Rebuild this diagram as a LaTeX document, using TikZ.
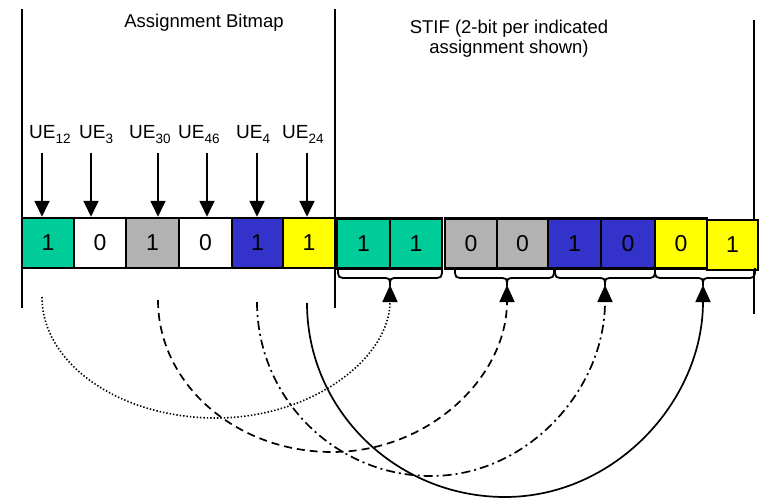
\documentclass[tikz,border=0pt]{standalone}
\usepackage{fontspec}
\setmainfont{Liberation Sans}
\usetikzlibrary{arrows.meta}
\definecolor{cgreen}{HTML}{00CC99}
\definecolor{cgray}{HTML}{B2B2B2}
\definecolor{cblue}{HTML}{3333CC}
\definecolor{cyellow}{HTML}{FFFF00}
\newcommand\mybrace[3]{\draw[bracestyle] (#1,268) .. controls (#1,278) .. (#1+10,278) -- (#3-9,278) .. controls (#3,278) .. (#3,286) .. controls (#3,278) .. (#3+9,278) -- (#2-10,278) .. controls (#2,278) .. (#2,268);}
\newcommand\mysub[1]{\raisebox{-5pt}{\fontsize{13.5}{14}\selectfont #1}}
\begin{document}
\begin{tikzpicture}[x=1pt,y=-1pt,
  bit/.style={draw, line width=2.5pt, minimum height=50pt, inner sep=0pt, font=\fontsize{23}{27}\selectfont},
  lbl/.style={anchor=base west, inner sep=0pt, font=\fontsize{19}{21}\selectfont},
  ttl/.style={anchor=base, inner sep=0pt, font=\fontsize{18.5}{21}\selectfont},
  vline/.style={line width=2pt},
  darrow/.style={line width=1.8pt, -{Triangle[width=15pt,length=16pt]}},
  link/.style={line width=1.7pt, -{Triangle[width=15pt,length=17pt]}},
  bracestyle/.style={line width=1.8pt}]
\useasboundingbox (0,0) rectangle (759,500);
% frame lines
\draw[vline] (22,9) -- (22,308);
\draw[vline] (335,9) -- (335,308);
\draw[vline] (754,20) -- (754,314);
% titles
\node[ttl] (t1) at (204,28) {Assignment Bitmap};
\node[ttl] (t2) at (509,34) {STIF (2-bit per indicated};
\node[ttl] (t3) at (509,54) {assignment shown)};
% UE labels
\node[lbl] (u1) at (29,138) {UE\mysub{12}};
\node[lbl] (u2) at (79,138) {UE\mysub{3}};
\node[lbl] (u3) at (129,138) {UE\mysub{30}};
\node[lbl] (u4) at (178,138) {UE\mysub{46}};
\node[lbl] (u5) at (236,138) {UE\mysub{4}};
\node[lbl] (u6) at (282,138) {UE\mysub{24}};
% bitmap boxes
\node[bit, fill=cgreen, minimum width=52pt] (b1) at (48,243) {1};
\node[bit, fill=white, minimum width=52pt] (b2) at (100,243) {0};
\node[bit, fill=cgray, minimum width=53pt] (b3) at (152.5,243) {1};
\node[bit, fill=white, minimum width=53pt] (b4) at (205.5,243) {0};
\node[bit, fill=cblue, minimum width=51pt] (b5) at (257.5,243) {1};
\node[bit, fill=cyellow, minimum width=52pt] (b6) at (309,243) {1};
% STIF boxes
\node[bit, fill=cgreen, minimum width=53pt] (s1) at (363.5,243.5) {1};
\node[bit, fill=cgreen, minimum width=52pt] (s2) at (416,243.5) {1};
\node[bit, fill=cgray, minimum width=52pt] (s3) at (471,243.5) {0};
\node[bit, fill=cgray, minimum width=51pt] (s4) at (522.5,243.5) {0};
\node[bit, fill=cblue, minimum width=53pt] (s5) at (574.5,243.5) {1};
\node[bit, fill=cblue, minimum width=54pt] (s6) at (628,243.5) {0};
\node[bit, fill=cyellow, minimum width=52pt] (s7) at (681,243.5) {0};
\node[bit, fill=cyellow, minimum width=51pt] (s8) at (732.5,245) {1};
% down arrows
\coordinate (a1) at (42,153);
\coordinate (a2) at (91,153);
\coordinate (a3) at (158,153);
\coordinate (a4) at (207,153);
\coordinate (a5) at (257,153);
\coordinate (a6) at (307,153);
\foreach \i in {1,...,6} {\draw[darrow] (a\i) -- (a\i |- b\i.north);}
% braces
\mybrace{338}{442}{390}
\mybrace{455}{554}{507}
\mybrace{555}{655}{605}
\mybrace{655}{755}{703}
% links
\coordinate (c1) at (42,297);
\coordinate (c2) at (158,300);
\coordinate (c3) at (257,302);
\coordinate (c4) at (307,303);
\coordinate (k1) at (390,285);
\coordinate (k2) at (507,285);
\coordinate (k3) at (605,285);
\coordinate (k4) at (703,285);
\draw[link, line width=1.6pt, dash pattern=on 1.4pt off 2pt] (c1) .. controls (42,364) and (120,418) .. (216,418) .. controls (312,418) and (390,358) .. (k1);
\draw[link, dash pattern=on 8pt off 5pt] (c2) .. controls (158,384) and (236,452) .. (332,452) .. controls (429,452) and (507,377) .. (k2);
\draw[link, dash pattern=on 9pt off 4pt on 2pt off 4pt] (c3) .. controls (257,398) and (335,476) .. (431,476) .. controls (527,476) and (605,390) .. (k3);
\draw[link] (c4) .. controls (307,410) and (396,497) .. (505,497) .. controls (614,497) and (703,402) .. (k4);
\end{tikzpicture}
\end{document}
